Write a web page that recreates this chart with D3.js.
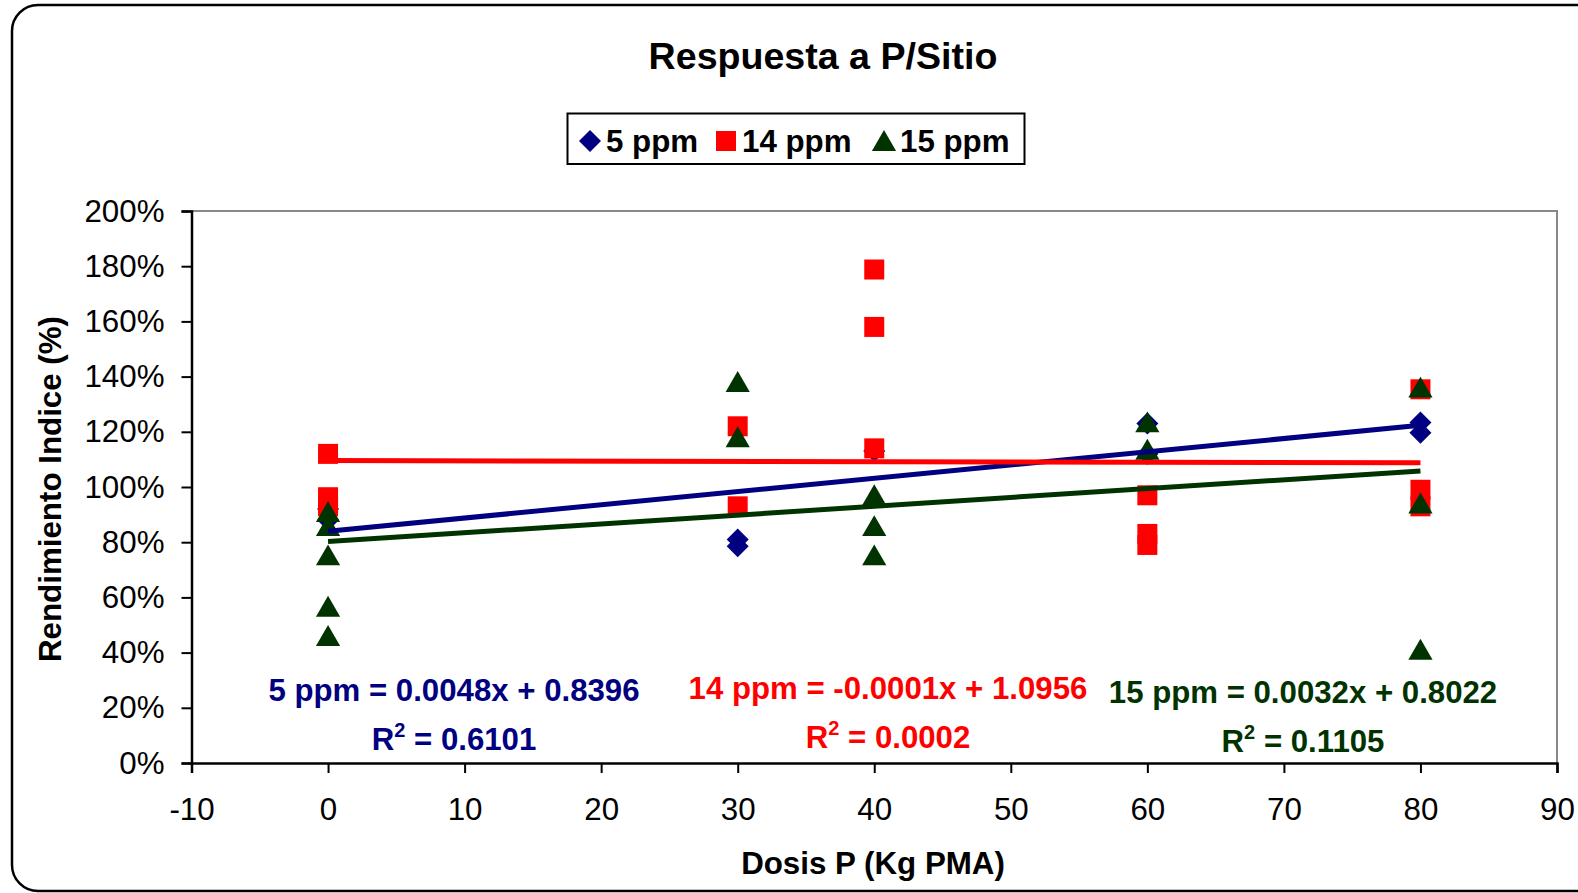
<!DOCTYPE html>
<html>
<head>
<meta charset="utf-8">
<script src="https://cdn.jsdelivr.net/npm/d3@7"></script>
<style>
  html, body { margin: 0; padding: 0; background: #fff; overflow: hidden; }
  #svg-container { width: 1578px; height: 893px; }
  svg { display: block; }
  svg text { font-family: "Liberation Sans", Arial, sans-serif; }
</style>
</head>
<body>
<div id="svg-container"></div>
<script>
// data
const xTicks = [-10, 0, 10, 20, 30, 40, 50, 60, 70, 80, 90];
const yTicks = [0, 0.2, 0.4, 0.6, 0.8, 1.0, 1.2, 1.4, 1.6, 1.8, 2.0];

const ppm5 = [
  [0, 0.92], [0, 0.88],
  [30, 0.81], [30, 0.785],
  [40, 1.13],
  [60, 1.23], [60, 1.12],
  [80, 1.234], [80, 1.197]
];
const ppm14 = [
  [0, 1.12], [0, 0.963], [0, 0.93],
  [30, 1.22], [30, 0.93],
  [40, 1.788], [40, 1.58], [40, 1.14],
  [60, 0.97], [60, 0.83], [60, 0.79],
  [80, 1.354], [80, 0.99], [80, 0.93]
];
const ppm15 = [
  [0, 0.909], [0, 0.858], [0, 0.752], [0, 0.566], [0, 0.46],
  [30, 1.38], [30, 1.18],
  [40, 0.97], [40, 0.858], [40, 0.752],
  [60, 1.234], [60, 1.135],
  [80, 1.36], [80, 0.94], [80, 0.41]
];

// trendline coefficients [slope, intercept]
const trend5 = [0.0048, 0.8396];
const trend14 = [-0.0001, 1.0956];
const trend15 = [0.0032, 0.8022];

const seriesNames = ["5 ppm", "14 ppm", "15 ppm"];
const eqLabels = ["5 ppm = 0.0048x + 0.8396", "14 ppm = -0.0001x + 1.0956", "15 ppm = 0.0032x + 0.8022"];
const r2Labels = ["0.6101", "0.0002", "0.1105"];

const colors = ["#000080", "#FF0000", "#003300"];

////////////////////////////  Init  ///////////////////////////////
const width = 1578;
const height = 893;
const margin = { top: 211, right: 21, bottom: 130, left: 191.5 };

const svg = d3.select("#svg-container").append("svg")
  .attr("width", width)
  .attr("height", height);

// 바깥 둥근 테두리
svg.append("rect")
  .attr("x", 12).attr("y", 5)
  .attr("width", 1620).attr("height", 886)
  .attr("rx", 26).attr("ry", 26)
  .attr("fill", "#fff")
  .attr("stroke", "#000")
  .attr("stroke-width", 2.5);

// scale
const xScale = d3.scaleLinear().domain([-10, 90]).range([margin.left, width - margin.right]);
const yScale = d3.scaleLinear().domain([0, 2]).range([height - margin.bottom, margin.top]);

// plot area border (gray top/right)
svg.append("path")
  .attr("d", `M${xScale(-10)},${yScale(2)}H${xScale(90)}V${yScale(0)}`)
  .attr("fill", "none")
  .attr("stroke", "#888")
  .attr("stroke-width", 2);

// axis
const xAxis = d3.axisBottom(xScale)
  .tickValues(xTicks)
  .tickFormat((d) => String(d))
  .tickSizeOuter(0)
  .tickSize(10)
  .tickPadding(25);

const yAxis = d3.axisLeft(yScale)
  .tickValues(yTicks)
  .tickFormat(d3.format(".0%"))
  .tickSizeOuter(0)
  .tickSize(10)
  .tickPadding(17);

svg.append("g")
  .attr("class", "x-axis")
  .attr("transform", `translate(0, ${height - margin.bottom})`)
  .call(xAxis)
  .call((g) => g.select(".domain").attr("stroke-width", 2.5))
  .call((g) => g.selectAll(".tick line").attr("stroke-width", 2))
  .call((g) => g.selectAll(".tick text").attr("font-size", 31.3).attr("fill", "#000"));

svg.append("g")
  .attr("class", "y-axis")
  .attr("transform", `translate(${margin.left},0)`)
  .call(yAxis)
  .call((g) => g.select(".domain").attr("stroke-width", 2.5))
  .call((g) => g.selectAll(".tick line").attr("stroke-width", 2))
  .call((g) => g.selectAll(".tick text").attr("font-size", 31.3).attr("fill", "#000"));

// marker shapes
const diamond = (r) => `M0,${-r}L${r},0L0,${r}L${-r},0Z`;
const square = (r) => `M${-r},${-r}H${r}V${r}H${-r}Z`;
const triangle = (r) => `M0,${-r}L${r * 1.1},${r * 0.9}H${-r * 1.1}Z`;

const shapes = [diamond(11), square(10), triangle(11)];
const allSeries = [ppm5, ppm14, ppm15];

allSeries.forEach((s, i) => {
  svg.append("g")
    .attr("class", "series" + i)
    .selectAll("path")
    .data(s)
    .join("path")
    .attr("transform", (d) => `translate(${xScale(d[0])},${yScale(d[1])})`)
    .attr("d", shapes[i])
    .attr("fill", colors[i]);
});

// trendlines
const trends = [trend5, trend14, trend15];
const line = d3.line()
  .x((d) => xScale(d[0]))
  .y((d) => yScale(d[1]));

trends.forEach((t, i) => {
  const pts = [0, 80].map((x) => [x, t[0] * x + t[1]]);
  svg.append("path")
    .datum(pts)
    .attr("d", line)
    .attr("fill", "none")
    .attr("stroke", colors[i])
    .attr("stroke-width", 5);
});

// equation labels
const eqPos = [[454, 701, 750], [888, 699, 748], [1303, 703, 752]];
eqLabels.forEach((txt, i) => {
  svg.append("text")
    .attr("x", eqPos[i][0]).attr("y", eqPos[i][1])
    .attr("text-anchor", "middle")
    .attr("font-size", 31.2).attr("font-weight", "bold")
    .attr("fill", colors[i])
    .text(txt);
  const t = svg.append("text")
    .attr("x", eqPos[i][0]).attr("y", eqPos[i][2])
    .attr("text-anchor", "middle")
    .attr("font-size", 31.2).attr("font-weight", "bold")
    .attr("fill", colors[i]);
  t.append("tspan").text("R");
  t.append("tspan").attr("font-size", 20).attr("dy", -13).text("2");
  t.append("tspan").attr("dy", 13).text(" = " + r2Labels[i]);
});

// title
svg.append("text")
  .attr("x", 823).attr("y", 68.5)
  .attr("text-anchor", "middle")
  .attr("font-size", 37.6).attr("font-weight", "bold")
  .text("Respuesta a P/Sitio");

// axis titles
svg.append("text")
  .attr("x", 873).attr("y", 874)
  .attr("text-anchor", "middle")
  .attr("font-size", 31.3).attr("font-weight", "bold")
  .text("Dosis P (Kg PMA)");

svg.append("text")
  .attr("transform", "translate(61, 489) rotate(-90)")
  .attr("text-anchor", "middle")
  .attr("font-size", 31.3).attr("font-weight", "bold")
  .text("Rendimiento Indice (%)");

// legend
const legend = svg.append("g").attr("class", "legend");
legend.append("rect")
  .attr("x", 567.5).attr("y", 113.5)
  .attr("width", 457).attr("height", 50.5)
  .attr("fill", "#fff")
  .attr("stroke", "#000")
  .attr("stroke-width", 2);

const legX = [590, 726, 884];
seriesNames.forEach((name, i) => {
  legend.append("path")
    .attr("transform", `translate(${legX[i]},141)`)
    .attr("d", shapes[i])
    .attr("fill", colors[i]);
  legend.append("text")
    .attr("x", legX[i] + 16).attr("y", 152)
    .attr("font-size", 31.3).attr("font-weight", "bold")
    .text(name);
});
</script>
</body>
</html>
